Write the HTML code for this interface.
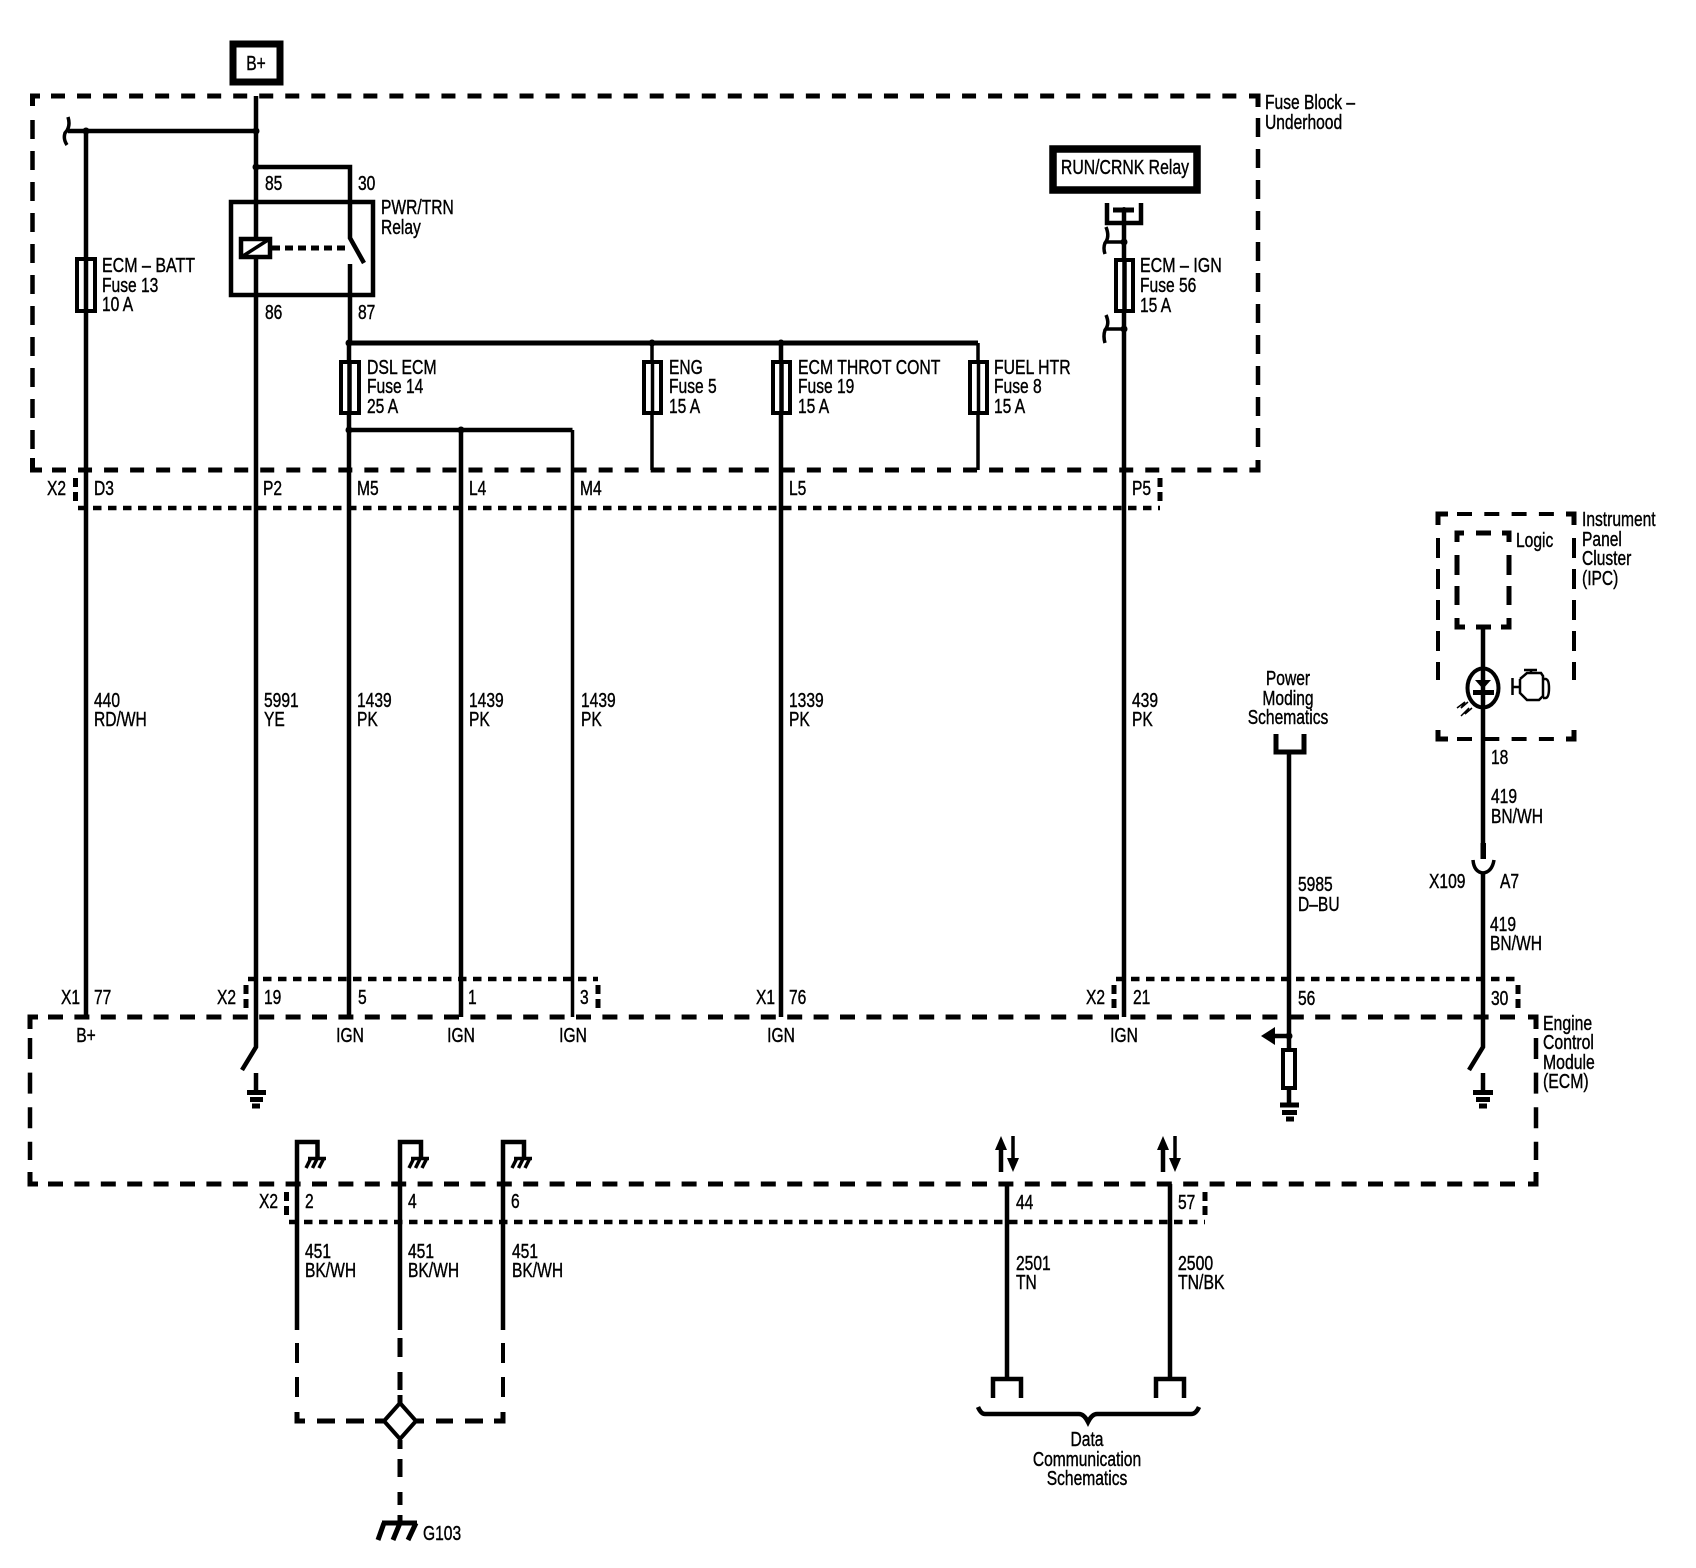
<!DOCTYPE html>
<html><head><meta charset="utf-8"><style>
html,body{margin:0;padding:0;background:#fff}
svg{display:block}
text{font-family:"Liberation Sans",Arial,sans-serif;font-size:20px;fill:#000;stroke:#000;stroke-width:.4}
.w{fill:none;stroke:#000;stroke-width:4.5}
.t{fill:none;stroke:#000;stroke-width:3.5}
.b{fill:none;stroke:#000;stroke-width:5}
.f{fill:#fff;stroke:#000;stroke-width:4}
.k{fill:#000;stroke:none}
.hd{fill:none;stroke:#000;stroke-width:5;stroke-dasharray:14 12.03}
.ed{fill:none;stroke:#000;stroke-width:5;stroke-dasharray:15 11.4}
.vd{fill:none;stroke:#000;stroke-width:4.5;stroke-dasharray:19 12}
.ev{fill:none;stroke:#000;stroke-width:4.5;stroke-dasharray:21 13.6}
.dt{fill:none;stroke:#000;stroke-width:4.5;stroke-dasharray:8.5 6.5}
.iv{fill:none;stroke:#000;stroke-width:4;stroke-dasharray:20 11}
.ih{fill:none;stroke:#000;stroke-width:4;stroke-dasharray:15 12.3}
.gd{fill:none;stroke:#000;stroke-width:4;stroke-dasharray:20 14}
</style></head><body>
<svg width="1696" height="1568" viewBox="0 0 1696 1568" xmlns="http://www.w3.org/2000/svg">
<rect width="1696" height="1568" fill="#fff"/>

<!-- B+ box -->
<rect x="233" y="44" width="47" height="38" fill="#fff" stroke="#000" stroke-width="7"/>

<!-- Fuse block dashed box -->
<path class="hd" d="M51 96H1245"/>
<path class="hd" d="M52 470H1250"/>
<path class="vd" d="M32.5 120V450"/>
<path class="vd" d="M1258 118V450"/>
<path class="b" d="M32.5 106V96H40"/>
<path class="b" d="M32.5 458V470H42"/>
<path class="b" d="M1258 460V470H1250"/>
<path class="b" d="M1249 96H1258V107"/>

<!-- X2 dotted row -->
<path class="dt" d="M78 508H1160"/>
<path class="b" stroke-dasharray="9 5" d="M75.5 478V502"/>
<path class="b" stroke-dasharray="9 5" d="M1160 478V502"/>

<!-- Main wires top -->
<path class="w" d="M256 96V1047L242 1070"/>
<path class="w" d="M68 131H256"/>
<path class="w" d="M86 131V1017"/>
<path class="t" d="M68 117Q71 127 65 133Q63 139 67 145"/>
<circle class="k" cx="86" cy="131" r="3.5"/>
<circle class="k" cx="256" cy="131" r="3.5"/>
<circle class="k" cx="256" cy="167" r="3.5"/>
<path class="w" d="M256 167H350V238L364 263"/>
<path class="w" d="M350 264V343"/>

<!-- Relay -->
<rect x="231" y="202" width="142" height="93" fill="none" stroke="#000" stroke-width="4.5"/>
<rect x="241" y="239" width="29" height="18" fill="#fff" stroke="#000" stroke-width="4.5"/>
<path class="t" d="M243 256L268 240"/>
<path stroke="#000" stroke-width="5" stroke-dasharray="8 5" fill="none" d="M272 248H350"/>

<!-- Fuse 13 -->
<rect class="f" x="77" y="259" width="18" height="52"/>
<path class="w" d="M86 259V311"/>

<!-- bus -->
<path class="b" d="M349 343H978"/>
<path class="w" d="M349 343V1017"/>
<path class="w" d="M461 430V1017"/>
<path class="t" d="M572.5 430V1017"/>
<path class="w" d="M349 430H572.5"/>
<path class="w" d="M781 343V1017"/>
<path class="t" d="M652 343V470"/>
<path class="t" d="M978 343V470"/>
<circle class="k" cx="349" cy="343" r="3.5"/>
<circle class="k" cx="652" cy="343" r="3.5"/>
<circle class="k" cx="781" cy="343" r="3.5"/>
<circle class="k" cx="349" cy="430" r="3.5"/>
<circle class="k" cx="461" cy="430" r="3.5"/>

<!-- fuses row -->
<rect class="f" x="341" y="362" width="18" height="51"/><path class="w" d="M349.500 362V413"/>
<rect class="f" x="644" y="362" width="17" height="51"/><path class="t" d="M652.500 362V413"/>
<rect class="f" x="773" y="362" width="17" height="51"/><path class="w" d="M781.500 362V413"/>
<rect class="f" x="970" y="362" width="17" height="51"/><path class="t" d="M978.500 362V413"/>

<!-- RUN/CRNK -->
<rect x="1053" y="149" width="144" height="41" fill="#fff" stroke="#000" stroke-width="7.500"/>
<path class="w" d="M1107 203V223H1141V203"/>
<path class="b" d="M1113 210H1134"/>
<path class="w" d="M1124 208V1017"/>
<circle class="k" cx="1124" cy="210" r="3"/>
<circle class="k" cx="1124" cy="242" r="3.500"/>
<circle class="k" cx="1124" cy="329" r="3.500"/>
<path class="t" d="M1106 242H1124M1106 329H1124"/>
<path class="t" d="M1106 227Q1110 237 1105 243Q1103 248 1105 254"/>
<path class="t" d="M1106 315Q1110 324 1105 330Q1103 336 1105 343"/>
<rect class="f" x="1116" y="260" width="17" height="51"/><path class="w" d="M1124.500 260V311"/>

<!-- IPC -->
<path class="ih" d="M1457 514H1560"/>
<path class="ih" d="M1457 739H1560"/>
<path class="iv" d="M1438 538V680"/>
<path class="iv" d="M1574 538V680"/>
<path class="b" stroke-width="4" d="M1448 514H1438V525"/>
<path class="b" stroke-width="4" d="M1566 514H1574V525"/>
<path class="b" stroke-width="4" d="M1438 730V739H1448"/>
<path class="b" stroke-width="4" d="M1566 739H1574V730"/>
<path class="b" stroke-width="4" d="M1464 533H1457V542M1476 533H1491M1502 533H1509V542M1457 555V575M1457 586V605M1509 555V575M1509 586V605M1457 618V627H1465M1509 618V627H1501M1476 627H1491"/>
<path class="w" d="M1483 627V843"/>
<ellipse cx="1483" cy="688" rx="15.500" ry="19.500" fill="none" stroke="#000" stroke-width="4"/>
<path class="k" d="M1475 680H1491L1483 689Z"/>
<path class="b" stroke-width="3.500" d="M1473 692.500H1494"/>
<path fill="none" stroke="#000" stroke-width="1.500" d="M1457 708L1465 702L1461 708L1468 702M1461 716L1469 708L1465 714L1472 708"/>
<path fill="none" stroke="#000" stroke-width="2.500" d="M1512.500 678V695M1512.500 687H1520M1520 679L1527 673H1541L1543 676V696L1539 700H1527L1520 693V679M1524 670H1537M1531 670V673M1543 679H1546Q1549 680 1549 688Q1549 697 1546 698H1543"/>
<rect x="1480.500" y="843" width="5.500" height="16" class="k"/>
<path fill="none" stroke="#000" stroke-width="3.500" d="M1473 860Q1474 872 1483 873Q1492 872 1494 860"/>
<path class="w" d="M1483 873V1047L1469 1070"/>

<!-- Power moding -->
<path class="b" d="M1276 734V752H1304V734"/>
<path class="w" d="M1289 752V1103"/>

<!-- Engine box -->
<path class="ed" d="M48 1017H1518"/>
<path class="ed" d="M48 1184H1518"/>
<path class="ev" d="M30 1038V1160"/>
<path class="ev" d="M1536 1038V1160"/>
<path class="b" d="M30 1029V1017H38"/>
<path class="b" d="M30 1172V1184H38"/>
<path class="b" d="M1528 1017H1536V1029"/>
<path class="b" d="M1528 1184H1536V1172"/>

<!-- dotted row X2/19 -->
<path class="dt" d="M248 979H598"/>
<path class="b" stroke-dasharray="9 5" d="M246 985V1010"/>
<path class="b" stroke-dasharray="9 5" d="M598 985V1010"/>
<path class="dt" d="M1116 979H1518"/>
<path class="b" stroke-dasharray="9 5" d="M1114 985V1010"/>
<path class="b" stroke-dasharray="9 5" d="M1518 985V1010"/>

<!-- grounds -->
<path class="w" d="M256 1073V1092"/>
<path class="b" d="M247 1092.500H266"/>
<path class="b" d="M250 1099.500H263"/>
<path class="b" d="M252 1106H260"/>
<path class="w" d="M1483 1073V1092"/>
<path class="b" d="M1473 1092.500H1493"/>
<path class="b" d="M1476 1099.500H1490"/>
<path class="b" d="M1479 1106H1487"/>

<!-- arrow and resistor -->
<circle class="k" cx="1289" cy="1036" r="3.500"/>
<path class="w" d="M1272 1036H1289"/>
<path class="k" d="M1261 1036L1275 1027V1045Z"/>
<rect class="f" x="1283" y="1050" width="12" height="38"/>
<path class="b" d="M1280 1105H1299"/>
<path class="b" d="M1282 1112.500H1297"/>
<path class="b" d="M1286 1119H1294"/>

<!-- hooks -->
<path class="w" d="M297 1330V1142H317.500V1157"/>
<path class="w" d="M400 1330V1142H421V1157"/>
<path class="w" d="M503 1330V1142H524V1157"/>
<path class="t" d="M308 1158.500H326M311 1158L306 1168M317.500 1158L312.500 1168M324 1158L319 1168"/>
<path class="t" d="M411 1158.500H429M414 1158L409 1168M420.500 1158L415.500 1168M427 1158L422 1168"/>
<path class="t" d="M514 1158.500H532M517 1158L512 1168M523.500 1158L518.500 1168M530 1158L525 1168"/>

<!-- lower dotted -->
<path class="dt" d="M289 1222H1205"/>
<path class="b" stroke-dasharray="9 5" d="M286.500 1192V1215"/>
<path class="b" stroke-dasharray="9 5" d="M1205 1192V1215"/>

<!-- splice -->
<path class="gd" d="M297 1343V1400"/>
<path class="gd" d="M503 1343V1400"/>
<path class="b" stroke-width="4" d="M400 1338V1357M400 1372V1390M400 1395V1403M400 1440V1449M400 1459V1477M400 1492V1505M400 1515V1523"/>
<path class="b" stroke-width="4" d="M297 1412V1421H305"/>
<path class="b" stroke-width="4" d="M503 1412V1421H494"/>
<path class="b" stroke-width="4" d="M317 1421H335M346 1421H364M375 1421H384M416 1421H424M436 1421H453M465 1421H483"/>
<path d="M400 1403L416 1421L400 1439L384 1421Z" fill="#fff" stroke="#000" stroke-width="4"/>
<path class="b" d="M382 1523H417"/>
<path class="b" d="M384 1523L378 1540M400 1523L393 1540M416 1523L408 1540"/>

<!-- data arrows -->
<path class="w" d="M1001 1172V1146"/>
<path class="k" d="M1001 1136L995 1150H1007Z"/>
<path class="t" d="M1013 1136V1162"/>
<path class="k" d="M1013 1172L1007 1158H1019Z"/>
<path class="w" d="M1163 1172V1146"/>
<path class="k" d="M1163 1136L1157 1150H1169Z"/>
<path class="t" d="M1175 1136V1162"/>
<path class="k" d="M1175 1172L1169 1158H1181Z"/>

<path class="w" d="M1007 1184V1379"/>
<path class="w" d="M1170 1184V1379"/>
<path class="w" d="M993 1398V1379H1021V1398"/>
<path class="w" d="M1156 1398V1379H1184V1398"/>
<path class="w" stroke-width="4" d="M978 1407Q981 1414 985 1414H1079Q1084 1414 1088 1422Q1092 1414 1097 1414H1191Q1196 1414 1199 1407"/>

<!-- all labels -->
<g transform="translate(0,-1)">
<text text-anchor="middle" transform="translate(256 71) scale(.78 1)">B+</text>
<text text-anchor="middle" transform="translate(1125 175) scale(.79 1)">RUN/CRNK Relay</text>
<text transform="translate(1265 110) scale(.78 1)">Fuse Block –</text>
<text transform="translate(1265 130) scale(.78 1)">Underhood</text>
<text transform="translate(265 191) scale(.78 1)">85</text>
<text transform="translate(358 191) scale(.78 1)">30</text>
<text transform="translate(265 320) scale(.78 1)">86</text>
<text transform="translate(358 320) scale(.78 1)">87</text>
<text transform="translate(381 215) scale(.78 1)">PWR/TRN</text>
<text transform="translate(381 235) scale(.78 1)">Relay</text>
<text transform="translate(102 273) scale(.8 1)">ECM – BATT</text>
<text transform="translate(102 293) scale(.78 1)">Fuse 13</text>
<text transform="translate(102 312) scale(.78 1)">10 A</text>
<text transform="translate(367 375) scale(.79 1)">DSL ECM</text>
<text transform="translate(367 394) scale(.78 1)">Fuse 14</text>
<text transform="translate(367 414) scale(.78 1)">25 A</text>
<text transform="translate(669 375) scale(.78 1)">ENG</text>
<text transform="translate(669 394) scale(.78 1)">Fuse 5</text>
<text transform="translate(669 414) scale(.78 1)">15 A</text>
<text transform="translate(798 375) scale(.79 1)">ECM THROT CONT</text>
<text transform="translate(798 394) scale(.78 1)">Fuse 19</text>
<text transform="translate(798 414) scale(.78 1)">15 A</text>
<text transform="translate(994 375) scale(.79 1)">FUEL HTR</text>
<text transform="translate(994 394) scale(.78 1)">Fuse 8</text>
<text transform="translate(994 414) scale(.78 1)">15 A</text>
<text transform="translate(1140 273) scale(.8 1)">ECM – IGN</text>
<text transform="translate(1140 293) scale(.78 1)">Fuse 56</text>
<text transform="translate(1140 313) scale(.78 1)">15 A</text>
<text transform="translate(47 496) scale(.78 1)">X2</text>
<text transform="translate(94 496) scale(.78 1)">D3</text>
<text transform="translate(263 496) scale(.78 1)">P2</text>
<text transform="translate(357 496) scale(.78 1)">M5</text>
<text transform="translate(469 496) scale(.78 1)">L4</text>
<text transform="translate(580 496) scale(.78 1)">M4</text>
<text transform="translate(789 496) scale(.78 1)">L5</text>
<text transform="translate(1132 496) scale(.78 1)">P5</text>
<text transform="translate(94 708) scale(.78 1)">440</text>
<text transform="translate(94 727) scale(.78 1)">RD/WH</text>
<text transform="translate(264 708) scale(.78 1)">5991</text>
<text transform="translate(264 727) scale(.78 1)">YE</text>
<text transform="translate(357 708) scale(.78 1)">1439</text>
<text transform="translate(357 727) scale(.78 1)">PK</text>
<text transform="translate(469 708) scale(.78 1)">1439</text>
<text transform="translate(469 727) scale(.78 1)">PK</text>
<text transform="translate(581 708) scale(.78 1)">1439</text>
<text transform="translate(581 727) scale(.78 1)">PK</text>
<text transform="translate(789 708) scale(.78 1)">1339</text>
<text transform="translate(789 727) scale(.78 1)">PK</text>
<text transform="translate(1132 708) scale(.78 1)">439</text>
<text transform="translate(1132 727) scale(.78 1)">PK</text>
<text transform="translate(1582 527) scale(.78 1)">Instrument</text>
<text transform="translate(1582 547) scale(.78 1)">Panel</text>
<text transform="translate(1582 566) scale(.78 1)">Cluster</text>
<text transform="translate(1582 586) scale(.78 1)">(IPC)</text>
<text transform="translate(1516 548) scale(.78 1)">Logic</text>
<text transform="translate(1491 765) scale(.78 1)">18</text>
<text transform="translate(1491 804) scale(.78 1)">419</text>
<text transform="translate(1491 824) scale(.78 1)">BN/WH</text>
<text transform="translate(1429 889) scale(.78 1)">X109</text>
<text transform="translate(1500 889) scale(.78 1)">A7</text>
<text transform="translate(1490 932) scale(.78 1)">419</text>
<text transform="translate(1490 951) scale(.78 1)">BN/WH</text>
<text text-anchor="middle" transform="translate(1288 686) scale(.78 1)">Power</text>
<text text-anchor="middle" transform="translate(1288 706) scale(.78 1)">Moding</text>
<text text-anchor="middle" transform="translate(1288 725) scale(.78 1)">Schematics</text>
<text transform="translate(1298 892) scale(.78 1)">5985</text>
<text transform="translate(1298 912) scale(.78 1)">D–BU</text>
<text transform="translate(61 1005) scale(.78 1)">X1</text>
<text transform="translate(94 1005) scale(.78 1)">77</text>
<text transform="translate(217 1005) scale(.78 1)">X2</text>
<text transform="translate(264 1005) scale(.78 1)">19</text>
<text transform="translate(358 1005) scale(.78 1)">5</text>
<text transform="translate(468 1005) scale(.78 1)">1</text>
<text transform="translate(580 1005) scale(.78 1)">3</text>
<text transform="translate(756 1005) scale(.78 1)">X1</text>
<text transform="translate(789 1005) scale(.78 1)">76</text>
<text transform="translate(1086 1005) scale(.78 1)">X2</text>
<text transform="translate(1133 1005) scale(.78 1)">21</text>
<text transform="translate(1298 1006) scale(.78 1)">56</text>
<text transform="translate(1491 1006) scale(.78 1)">30</text>
<text text-anchor="middle" transform="translate(86 1043) scale(.78 1)">B+</text>
<text text-anchor="middle" transform="translate(350 1043) scale(.78 1)">IGN</text>
<text text-anchor="middle" transform="translate(461 1043) scale(.78 1)">IGN</text>
<text text-anchor="middle" transform="translate(573 1043) scale(.78 1)">IGN</text>
<text text-anchor="middle" transform="translate(781 1043) scale(.78 1)">IGN</text>
<text text-anchor="middle" transform="translate(1124 1043) scale(.78 1)">IGN</text>
<text transform="translate(1543 1031) scale(.79 1)">Engine</text>
<text transform="translate(1543 1050) scale(.79 1)">Control</text>
<text transform="translate(1543 1070) scale(.79 1)">Module</text>
<text transform="translate(1543 1089) scale(.79 1)">(ECM)</text>
<text transform="translate(259 1209) scale(.78 1)">X2</text>
<text transform="translate(305 1209) scale(.78 1)">2</text>
<text transform="translate(408 1209) scale(.78 1)">4</text>
<text transform="translate(511 1209) scale(.78 1)">6</text>
<text transform="translate(1016 1210) scale(.78 1)">44</text>
<text transform="translate(1178 1210) scale(.78 1)">57</text>
<text transform="translate(305 1259) scale(.78 1)">451</text>
<text transform="translate(305 1278) scale(.78 1)">BK/WH</text>
<text transform="translate(408 1259) scale(.78 1)">451</text>
<text transform="translate(408 1278) scale(.78 1)">BK/WH</text>
<text transform="translate(512 1259) scale(.78 1)">451</text>
<text transform="translate(512 1278) scale(.78 1)">BK/WH</text>
<text transform="translate(1016 1271) scale(.78 1)">2501</text>
<text transform="translate(1016 1290) scale(.78 1)">TN</text>
<text transform="translate(1178 1271) scale(.79 1)">2500</text>
<text transform="translate(1178 1290) scale(.79 1)">TN/BK</text>
<text text-anchor="middle" transform="translate(1087 1447) scale(.78 1)">Data</text>
<text text-anchor="middle" transform="translate(1087 1467) scale(.78 1)">Communication</text>
<text text-anchor="middle" transform="translate(1087 1486) scale(.78 1)">Schematics</text>
<text transform="translate(423 1541) scale(.78 1)">G103</text>
</g>
</svg>
</body></html>
